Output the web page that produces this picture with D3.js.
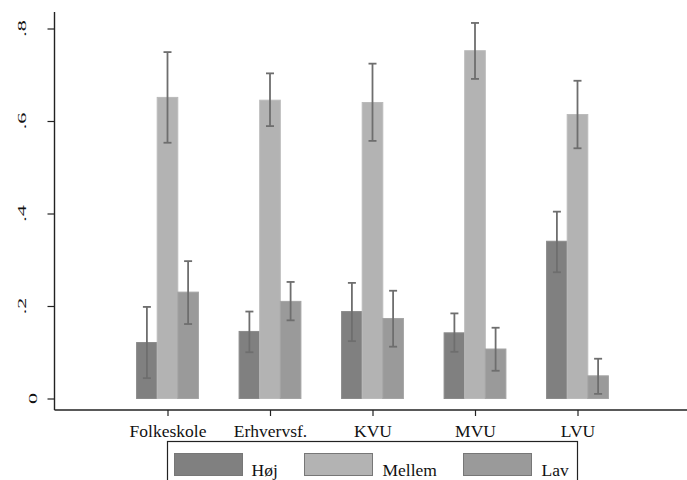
<!DOCTYPE html>
<html>
<head>
<meta charset="utf-8">
<script src="https://cdn.jsdelivr.net/npm/d3@7"></script>
<style>
  body { margin: 0; background: #fff; }
  svg { display: block; }
  svg text { font-family: "Liberation Serif", "Times New Roman", serif; }
</style>
</head>
<body>
<svg id="chart"></svg>
<script>
// Data
const categories = ["Folkeskole", "Erhvervsf.", "KVU", "MVU", "LVU"];
const seriesNames = ["Høj", "Mellem", "Lav"];

const hojValues    = [0.121, 0.145, 0.188, 0.142, 0.340];
const hojLow       = [0.044, 0.100, 0.124, 0.101, 0.273];
const hojHigh      = [0.198, 0.188, 0.250, 0.184, 0.404];

const mellemValues = [0.651, 0.645, 0.640, 0.752, 0.614];
const mellemLow    = [0.553, 0.589, 0.557, 0.691, 0.541];
const mellemHigh   = [0.749, 0.703, 0.724, 0.812, 0.687];

const lavValues    = [0.230, 0.210, 0.173, 0.107, 0.049];
const lavLow       = [0.161, 0.169, 0.112, 0.060, 0.010];
const lavHigh      = [0.297, 0.252, 0.233, 0.153, 0.086];

const yTicks = [0, 0.2, 0.4, 0.6, 0.8];
const yTickLabels = ["0", ".2", ".4", ".6", ".8"];

// Colours
const FILLS   = ["#808080", "#b3b3b3", "#9a9a9a"];
const STROKES = ["#8b8b8b", "#bbbbbb", "#a4a4a4"];
const ERR = "#6e6e6e";
const FONT = "Liberation Serif, Times New Roman, serif";

const width = 687, height = 480;
const svg = d3.select("#chart").attr("width", width).attr("height", height);

// Build rows from the arrays
const seriesData = [
    {values: hojValues, low: hojLow, high: hojHigh},
    {values: mellemValues, low: mellemLow, high: mellemHigh},
    {values: lavValues, low: lavLow, high: lavHigh}
];
const rows = [];
categories.forEach((c, i) => {
    seriesNames.forEach((s, j) => {
        rows.push({
            cat: c, series: s, idx: j,
            value: seriesData[j].values[i],
            low: seriesData[j].low[i],
            high: seriesData[j].high[i]
        });
    });
});

// Scales
const axisX = 54.5, axisY = 410;
const x = d3.scalePoint().domain(categories).range([167.5, 577.5]);
const sub = d3.scaleBand().domain(seriesNames).range([-30.9, 30.9]).padding(0);
const y = d3.scaleLinear().domain([0, 0.8]).range([398.5, 28.5]);

// Bars
svg.append("g").selectAll("rect")
    .data(rows)
    .enter().append("rect")
    .attr("x", d => x(d.cat) + sub(d.series))
    .attr("width", sub.bandwidth())
    .attr("y", d => y(d.value))
    .attr("height", d => y(0) - y(d.value))
    .attr("fill", d => FILLS[d.idx])
    .attr("stroke", d => STROKES[d.idx])
    .attr("stroke-width", 1);

// Error bars
const capW = 8;
const err = svg.append("g").attr("stroke", ERR).attr("stroke-width", 1.8).attr("fill", "none");
rows.forEach(d => {
    const cx = x(d.cat) + sub(d.series) + sub.bandwidth() / 2;
    err.append("line").attr("x1", cx).attr("x2", cx).attr("y1", y(d.low)).attr("y2", y(d.high));
    err.append("line").attr("x1", cx - capW / 2).attr("x2", cx + capW / 2).attr("y1", y(d.low)).attr("y2", y(d.low));
    err.append("line").attr("x1", cx - capW / 2).attr("x2", cx + capW / 2).attr("y1", y(d.high)).attr("y2", y(d.high));
});

// Y axis
const yAxis = d3.axisLeft(y).tickValues(yTicks).tickSize(7).tickFormat("");
const gy = svg.append("g").attr("transform", `translate(${axisX},0)`).call(yAxis);
gy.select(".domain").remove();
gy.selectAll(".tick line").attr("stroke", "#222").attr("stroke-width", 1.2);
svg.append("line")
    .attr("x1", axisX).attr("x2", axisX).attr("y1", 12).attr("y2", axisY)
    .attr("stroke", "#222").attr("stroke-width", 1.4);

// rotated y labels (stretched like the original)
svg.append("g").selectAll("text")
    .data(yTicks)
    .enter().append("text")
    .attr("transform", (d, i) => {
        const cx = yTickLabels[i].length === 1 ? 32.5 : 21.5;
        return `translate(${cx},${y(d)}) rotate(-90) scale(1.3,0.78)`;
    })
    .attr("text-anchor", "middle")
    .attr("dy", "0.35em")
    .attr("font-family", FONT)
    .attr("font-size", 17)
    .attr("fill", "#111")
    .text((d, i) => yTickLabels[i]);

// X axis
const xAxis = d3.axisBottom(x).tickSize(6).tickPadding(8);
const gx = svg.append("g").attr("transform", `translate(0,${axisY})`).call(xAxis);
gx.select(".domain").remove();
gx.selectAll(".tick line").attr("stroke", "#222").attr("stroke-width", 1.2);
gx.attr("font-family", FONT);
gx.selectAll(".tick text")
    .attr("font-family", FONT)
    .attr("font-size", 17.5)
    .attr("fill", "#111")
    .attr("y", 26.5)
    .attr("dy", 0);
svg.append("line")
    .attr("x1", axisX).attr("x2", width).attr("y1", axisY).attr("y2", axisY)
    .attr("stroke", "#222").attr("stroke-width", 1.4);

// Legend
const legend = svg.append("g");
legend.append("rect")
    .attr("x", 167.5).attr("y", 441.5)
    .attr("width", 410).attr("height", 60)
    .attr("fill", "#fff").attr("stroke", "#222").attr("stroke-width", 1.2);

const legendSwatchX = [174.5, 304.5, 463.5];
const legendTextX = [251.5, 382.5, 541.5];
seriesNames.forEach((s, j) => {
    legend.append("rect")
        .attr("x", legendSwatchX[j]).attr("y", 453.5)
        .attr("width", 68).attr("height", 22)
        .attr("fill", FILLS[j]).attr("stroke", "#777").attr("stroke-width", 1);
    legend.append("text")
        .attr("x", legendTextX[j]).attr("y", 476)
        .attr("font-family", FONT)
        .attr("font-size", 17.5).attr("fill", "#111")
        .text(s);
});
</script>
</body>
</html>
